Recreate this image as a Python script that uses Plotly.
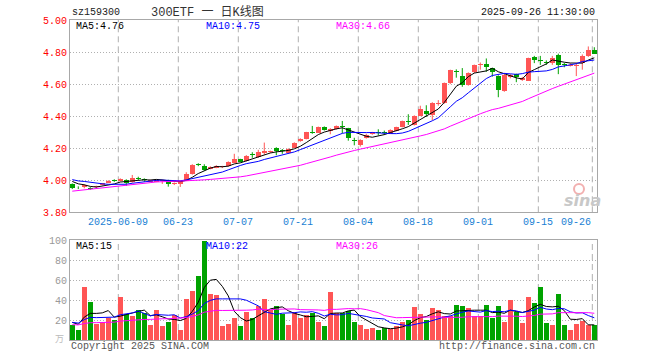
import numpy as np
import pandas as pd
import plotly.graph_objects as go

# ---------------- data ----------------
dates = [d.strftime("%Y-%m-%d") for d in pd.bdate_range("2025-05-27", "2025-09-26")
         if d.strftime("%Y-%m-%d") != "2025-06-02"]

opens = [3.977, 3.957, 3.956, 3.953, 3.956, 3.970, 3.985, 4.000,
         3.996, 4.004, 3.990, 4.015, 4.006, 3.992, 3.992, 3.994, 4.000, 3.974,
         3.976, 3.998, 4.037, 4.098, 4.091, 4.073, 4.078, 4.080, 4.089, 4.110,
         4.130, 4.120, 4.160, 4.145, 4.168, 4.177, 4.203, 4.186, 4.172, 4.204,
         4.242, 4.258, 4.300, 4.298, 4.333, 4.308, 4.320, 4.335, 4.325, 4.248,
         4.222, 4.262, 4.287, 4.300, 4.297, 4.291, 4.309, 4.332, 4.370, 4.345,
         4.404, 4.430, 4.405, 4.477, 4.480, 4.608, 4.680, 4.652, 4.594, 4.673,
         4.720, 4.723, 4.698, 4.650, 4.556, 4.645, 4.660, 4.627, 4.622, 4.768,
         4.748, 4.738, 4.730, 4.783, 4.728, 4.716, 4.716, 4.730, 4.777, 4.814]
highs = [3.980, 3.962, 3.975, 3.957, 3.966, 3.982, 4.000, 4.006,
         4.012, 4.006, 4.033, 4.022, 4.012, 4.004, 4.003, 4.004, 4.003, 3.986,
         4.000, 4.050, 4.100, 4.106, 4.100, 4.087, 4.094, 4.090, 4.118, 4.165,
         4.134, 4.157, 4.175, 4.190, 4.235, 4.185, 4.206, 4.195, 4.199, 4.237,
         4.262, 4.302, 4.339, 4.335, 4.336, 4.325, 4.342, 4.370, 4.327, 4.265,
         4.256, 4.290, 4.302, 4.318, 4.310, 4.318, 4.334, 4.372, 4.412, 4.405,
         4.465, 4.468, 4.487, 4.500, 4.610, 4.690, 4.692, 4.700, 4.673, 4.722,
         4.735, 4.760, 4.702, 4.655, 4.665, 4.662, 4.665, 4.645, 4.765, 4.776,
         4.776, 4.748, 4.776, 4.790, 4.732, 4.730, 4.730, 4.785, 4.835, 4.830]
lows = [3.945, 3.945, 3.950, 3.940, 3.952, 3.968, 3.983, 3.990,
        3.992, 3.965, 3.985, 4.000, 3.990, 3.986, 3.988, 3.977, 3.960, 3.970,
        3.958, 3.995, 4.035, 4.088, 4.058, 4.068, 4.075, 4.076, 4.085, 4.106,
        4.112, 4.117, 4.140, 4.140, 4.160, 4.170, 4.156, 4.165, 4.168, 4.202,
        4.240, 4.255, 4.290, 4.296, 4.310, 4.287, 4.316, 4.293, 4.247, 4.218,
        4.210, 4.260, 4.284, 4.280, 4.282, 4.289, 4.306, 4.330, 4.345, 4.342,
        4.400, 4.396, 4.375, 4.465, 4.478, 4.600, 4.640, 4.583, 4.590, 4.668,
        4.690, 4.677, 4.646, 4.518, 4.552, 4.636, 4.612, 4.620, 4.620, 4.731,
        4.720, 4.720, 4.720, 4.662, 4.705, 4.710, 4.650, 4.690, 4.770, 4.790]
closes = [3.952, 3.955, 3.970, 3.948, 3.963, 3.980, 3.997, 3.996,
          4.008, 3.981, 4.015, 4.010, 4.001, 4.000, 4.000, 4.000, 3.977, 3.983,
          3.998, 4.037, 4.097, 4.095, 4.066, 4.083, 4.088, 4.088, 4.115, 4.135,
          4.117, 4.150, 4.157, 4.178, 4.185, 4.180, 4.185, 4.183, 4.197, 4.235,
          4.260, 4.300, 4.297, 4.333, 4.313, 4.322, 4.338, 4.330, 4.262, 4.245,
          4.252, 4.283, 4.300, 4.296, 4.293, 4.314, 4.332, 4.370, 4.364, 4.402,
          4.443, 4.414, 4.483, 4.482, 4.606, 4.685, 4.677, 4.594, 4.670, 4.718,
          4.725, 4.705, 4.675, 4.562, 4.658, 4.657, 4.643, 4.641, 4.762, 4.748,
          4.745, 4.733, 4.765, 4.720, 4.720, 4.720, 4.720, 4.775, 4.815, 4.790]
volumes = [15.3, 10.3, 53, 38, 16.3, 18, 22, 20, 43, 26,
           24, 29.6, 27, 15.3, 30, 14.3, 18.3, 25, 9.6, 41,
           49, 64, 99, 46, 45, 14.3, 16.3, 22, 14.3, 28,
           22, 34.5, 41, 30, 34, 26, 15.3, 28, 22, 25,
           27.5, 18.3, 13.6, 48, 27.5, 27.5, 29, 17.6, 15.3, 11.3,
           12.3, 9.6, 12, 11.3, 14.3, 18.3, 20, 33, 26, 20,
           32, 30, 24, 24, 35, 34, 32, 24, 24, 35,
           22, 34, 18.3, 40, 28, 17.3, 43, 37, 53, 17.3,
           15.3, 46, 15.3, 10, 16, 19.5, 15, 15]

# earlier sessions (before the visible window), only used to seed the moving averages
history_closes = [3.84, 3.85, 3.86, 3.855, 3.85, 3.86, 3.87, 3.865, 3.875, 3.88, 3.87, 3.875, 3.88, 3.87,
                  3.92, 3.947, 3.967, 3.961, 4.008, 4.014,
                  4.036, 4.003, 4.005, 4.006, 4.027,
                  4.03, 4.0, 3.998, 3.983]
history_volumes = [16, 13, 12, 15, 14, 18, 13, 12, 11, 14, 15, 17, 13, 14, 12, 16, 15, 14, 13, 16,
                   17, 18, 16, 19, 18,
                   20, 17, 19, 16.7]

ma_windows = [5, 10, 30]
price_ma_labels = ["MA5:4.76", "MA10:4.75", "MA30:4.66"]
volume_ma_labels = ["MA5:15", "MA10:22", "MA30:26"]

tick_dates = ["2025-06-09", "2025-06-23", "2025-07-07", "2025-07-21", "2025-08-04",
              "2025-08-18", "2025-09-01", "2025-09-15", "2025-09-26"]
tick_text = ["2025-06-09", "06-23", "07-07", "07-21", "08-04", "08-18", "09-01", "09-15", "09-26"]
price_ticks = [3.8, 4.0, 4.2, 4.4, 4.6, 4.8, 5.0]
volume_ticks = [20, 40, 60, 80, 100]

# ---------------- helpers ----------------
def moving_average(hist, vals, w):
    full = pd.Series(list(hist) + list(vals), dtype=float)
    return full.rolling(w).mean().to_numpy()[len(hist):]

W, H = 660, 360
ML, MR, MT, MB = 70, 63, 20, 20
PW, PH = W - ML - MR, H - MT - MB

def px(x):
    return (x - ML) / PW

def py(y):
    return (H - MB - y) / PH

FONT = "Liberation Mono, DejaVu Sans Mono, monospace"
RED = "#ff5555"
GREEN = "#00a300"
MA_COLORS = ["#000000", "#0000ff", "#ff00ff"]
GRID = "#b0b0b0"
BORDER = "#a8a8a8"

n = len(dates)
idx = list(range(n))
up = [c >= o for o, c in zip(opens, closes)]
colors = [RED if u else GREEN for u in up]

fig = go.Figure()

# candle bodies
fig.add_trace(go.Bar(
    x=idx,
    y=[max(abs(c - o), 0.006) for o, c in zip(opens, closes)],
    base=[min(o, c) for o, c in zip(opens, closes)],
    marker=dict(color=colors, line=dict(width=0)),
    width=0.8, xaxis="x", yaxis="y", hoverinfo="skip"))

# wicks
for col, flag in ((RED, True), (GREEN, False)):
    xs, ys = [], []
    for i in idx:
        if up[i] == flag:
            xs += [i, i, None]
            ys += [lows[i], highs[i], None]
    fig.add_trace(go.Scatter(x=xs, y=ys, mode="lines", line=dict(color=col, width=1),
                             xaxis="x", yaxis="y", hoverinfo="skip"))

# price moving averages
for w, col in zip(ma_windows, MA_COLORS):
    fig.add_trace(go.Scatter(x=idx, y=moving_average(history_closes, closes, w), mode="lines",
                             line=dict(color=col, width=1), xaxis="x", yaxis="y", hoverinfo="skip"))

# volume
fig.add_trace(go.Bar(x=idx, y=volumes, marker=dict(color=colors, line=dict(width=0)),
                     width=0.8, xaxis="x2", yaxis="y2", hoverinfo="skip"))
for w, col in zip(ma_windows, MA_COLORS):
    fig.add_trace(go.Scatter(x=idx, y=moving_average(history_volumes, volumes, w), mode="lines",
                             line=dict(color=col, width=1), xaxis="x2", yaxis="y2", hoverinfo="skip"))

xr = [-0.38, n - 1 + 0.45]
axis_common = dict(showline=True, mirror=True, linecolor=BORDER, linewidth=1, zeroline=False, ticks="")

fig.update_layout(
    width=W, height=H,
    margin=dict(l=ML, r=MR, t=MT, b=MB),
    paper_bgcolor="white", plot_bgcolor="white",
    showlegend=False, hovermode=False, barmode="overlay", bargap=0,
    xaxis=dict(domain=[0, 1], range=xr, anchor="y", showgrid=False, showticklabels=False, **axis_common),
    yaxis=dict(domain=[py(212.3), 1], range=[3.8, 5.0], anchor="x",
               tickvals=price_ticks, ticktext=[f"{v:.2f}" for v in price_ticks],
               tickfont=dict(family=FONT, size=10, color="#ff0000"),
               showgrid=True, gridcolor=GRID, griddash="1px,2px", gridwidth=1, **axis_common),
    xaxis2=dict(domain=[0, 1], range=xr, anchor="y2", matches="x", showgrid=False,
                showticklabels=False, **axis_common),
    yaxis2=dict(domain=[0, py(240)], range=[0, 100], anchor="x2",
                tickvals=volume_ticks, ticktext=[str(v) for v in volume_ticks],
                tickfont=dict(family=FONT, size=10, color="#999999"),
                showgrid=True, gridcolor=GRID, griddash="1px,2px", gridwidth=1, **axis_common),
)

# vertical dashed date lines and labels
shapes = []
annotations = []
for d, t in zip(tick_dates, tick_text):
    xi = dates.index(d) - 0.33
    for xref, yref in (("x", "y domain"), ("x2", "y2 domain")):
        shapes.append(dict(type="line", xref=xref, yref=yref, x0=xi, x1=xi, y0=0, y1=1,
                           line=dict(color=GRID, width=1, dash="6px,4px"), layer="below"))
    last = d == tick_dates[-1]
    annotations.append(dict(x=xi + (0.1 if last else 0), y=py(222), xref="x", yref="paper",
                            text=t, showarrow=False, xanchor="right" if last else "center",
                            yanchor="middle", font=dict(family=FONT, size=10, color="#1a7fd4")))

def label(x, y, text, color, anchor="left", size=10, family=FONT):
    annotations.append(dict(x=px(x), y=py(y), xref="paper", yref="paper", text=text,
                            showarrow=False, xanchor=anchor, yanchor="middle",
                            font=dict(family=family, size=size, color=color)))

label(70, 13, "sz159300", "#222222")
label(149, 12, "300ETF 一 日K线图", "#333333", size=12,
      family="Liberation Mono, Noto Sans CJK SC, monospace")
label(597, 13, "2025-09-26 11:30:00", "#111111", anchor="right")

for x0, txt, col in zip([74, 204, 334], price_ma_labels, MA_COLORS):
    label(x0, 26, txt, col)
for x0, txt, col in zip([74, 204, 334], volume_ma_labels, MA_COLORS):
    label(x0, 246, txt, col)

label(66, 338, "万", "#bbbbbb", anchor="right", size=9, family="Noto Sans CJK SC")
label(69, 346, "Copyright 2025 SINA.COM", "#555555")
label(597, 346, "http://finance.sina.com.cn", "#555555", anchor="right")

# sina watermark
annotations.append(dict(x=px(582), y=py(200), xref="paper", yref="paper", text="sina",
                        showarrow=False, xanchor="center", yanchor="middle",
                        font=dict(family="DejaVu Sans", size=16, color="#c8c8c8",
                                  weight="bold", style="italic")))
shapes.append(dict(type="circle", xref="paper", yref="paper",
                   x0=px(574), x1=px(584), y0=py(194), y1=py(184),
                   line=dict(color="#f2b0b0", width=2)))

fig.update_layout(shapes=shapes, annotations=annotations)
fig.write_html("out.html", config={"displayModeBar": False, "staticPlot": True},
               post_script="document.body.style.margin='0px';")
